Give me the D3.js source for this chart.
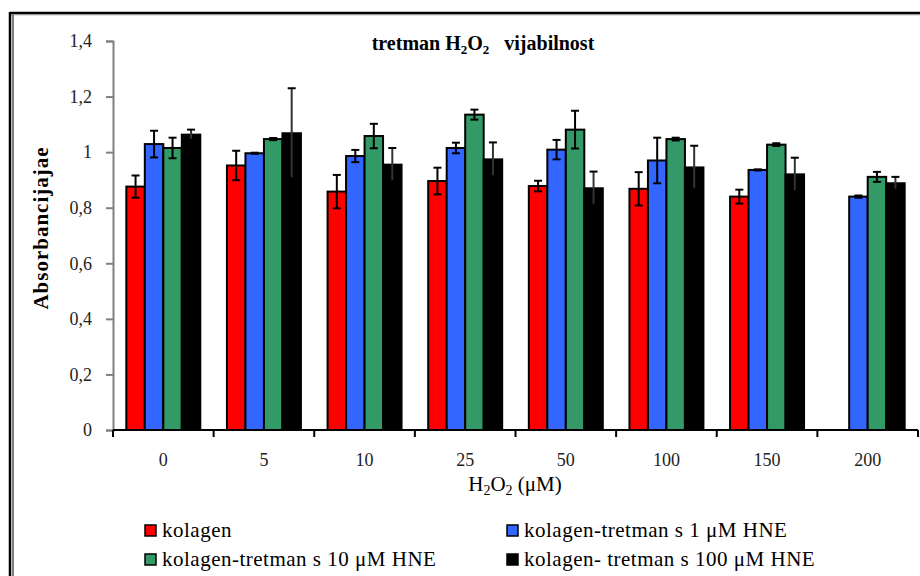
<!DOCTYPE html>
<html>
<head>
<meta charset="utf-8">
<script src="https://cdn.jsdelivr.net/npm/d3@7"></script>
<style>
  body { margin: 0; background: #fff; }
  svg text { font-family: "Liberation Serif", "Times New Roman", Times, "DejaVu Serif", serif !important; }
</style>
</head>
<body>
<div id="chart"></div>
<script>
(function () {

  var categories = ['0', '5', '10', '25', '50', '100', '150', '200']
  var seriesNames = [
    'kolagen',
    'kolagen-tretman s 1 μM HNE',
    'kolagen-tretman s 10 μM HNE',
    'kolagen- tretman s 100 μM HNE'
  ]
  var kolagen   = [0.876, 0.952, 0.858, 0.896, 0.878, 0.868, 0.840, null]
  var hne1      = [1.029, 0.996, 0.986, 1.015, 1.009, 0.970, 0.936, 0.840]
  var hne10     = [1.015, 1.047, 1.058, 1.135, 1.081, 1.047, 1.027, 0.911]
  var hne100    = [1.063, 1.068, 0.955, 0.974, 0.870, 0.945, 0.920, 0.888]
  var kolagenErr = [0.040, 0.053, 0.060, 0.048, 0.019, 0.060, 0.025, null]
  var hne1Err    = [0.048, 0.002, 0.022, 0.019, 0.035, 0.082, 0.002, 0.004]
  var hne10Err   = [0.037, 0.004, 0.044, 0.018, 0.068, 0.005, 0.005, 0.018]
  var hne100Err  = [0.018, 0.162, 0.060, 0.061, 0.060, 0.078, 0.060, 0.023]
  var yTicks = [0, 0.2, 0.4, 0.6, 0.8, 1, 1.2, 1.4]

  var colors = ['#ff0000', '#3366ff', '#339966', '#000000']
  var values = [kolagen, hne1, hne10, hne100]
  var errors = [kolagenErr, hne1Err, hne10Err, hne100Err]

  var width = 920, height = 576

  var svg = d3.select('#chart')
    .append('svg')
    .attr('width', width)
    .attr('height', height)

  // frame
  svg.append('line').attr('x1', 10).attr('x2', width).attr('y1', 13).attr('y2', 13)
    .attr('stroke', '#000').attr('stroke-width', 2.5)
  svg.append('line').attr('x1', 10).attr('x2', width).attr('y1', 14.8).attr('y2', 14.8)
    .attr('stroke', '#888').attr('stroke-width', 0.8)
  svg.append('line').attr('x1', 10).attr('x2', 10).attr('y1', 12).attr('y2', height)
    .attr('stroke', '#000').attr('stroke-width', 2.5)
  svg.append('line').attr('x1', 13).attr('x2', 13).attr('y1', 15).attr('y2', height)
    .attr('stroke', '#000').attr('stroke-width', 1)

  var x0 = d3.scaleBand()
    .domain(categories)
    .range([113, 918])
    .padding(0)

  var x1 = d3.scaleBand()
    .domain(d3.range(4))
    .range([0, x0.bandwidth()])
    .paddingOuter(0.72)
    .paddingInner(0)

  var y = d3.scaleLinear()
    .domain([0, 1.4])
    .range([430, 41])

  // y axis
  var yAxis = d3.axisLeft(y)
    .tickValues(yTicks)
    .tickSize(7)
    .tickPadding(14)
    .tickFormat(function (d) { return d3.format('.1f')(d).replace('.', ',').replace(',0', '') })
  var gy = svg.append('g')
    .attr('transform', 'translate(113,0)')
    .call(yAxis)
  gy.select('.domain').attr('stroke', '#808080').attr('stroke-width', 2)
  gy.selectAll('.tick line').attr('stroke', '#808080').attr('stroke-width', 2)
  gy.selectAll('.tick text')
    .attr('fill', '#222')
    .style('font-size', '18px')

  // bars
  categories.forEach(function (c, i) {
    values.forEach(function (s, k) {
      if (s[i] == null) return
      svg.append('rect')
        .attr('x', x0(c) + x1(k))
        .attr('y', y(s[i]))
        .attr('width', x1.bandwidth())
        .attr('height', y(0) - y(s[i]))
        .attr('fill', colors[k])
        .attr('stroke', '#000')
        .attr('stroke-width', 2)
    })
  })

  // error bars
  categories.forEach(function (c, i) {
    values.forEach(function (s, k) {
      if (s[i] == null) return
      var e = errors[k][i]
      var cx = x0(c) + x1(k) + x1.bandwidth() / 2
      var g = svg.append('g').attr('stroke', k === 3 ? '#333' : '#000').attr('stroke-width', 2)
      g.append('line').attr('x1', cx).attr('x2', cx).attr('y1', y(s[i] - e)).attr('y2', y(s[i] + e))
      g.append('line').attr('x1', cx - 4).attr('x2', cx + 4).attr('y1', y(s[i] + e)).attr('y2', y(s[i] + e))
        .attr('stroke', '#000')
      g.append('line').attr('x1', cx - 4).attr('x2', cx + 4).attr('y1', y(s[i] - e)).attr('y2', y(s[i] - e))
        .attr('stroke', '#000')
    })
  })

  // x axis
  svg.append('line')
    .attr('x1', 113).attr('x2', 918)
    .attr('y1', y(0)).attr('y2', y(0))
    .attr('stroke', '#000').attr('stroke-width', 2)
  var bounds = categories.map(function (c) { return x0(c) }).concat([x0.range()[1]])
  svg.selectAll('.xtick')
    .data(bounds)
    .enter().append('line')
    .attr('class', 'xtick')
    .attr('x1', function (d) { return d })
    .attr('x2', function (d) { return d })
    .attr('y1', y(0))
    .attr('y2', y(0) + 7)
    .attr('stroke', '#000')
    .attr('stroke-width', 2)
  svg.selectAll('.xlabel')
    .data(categories)
    .enter().append('text')
    .attr('class', 'xlabel')
    .attr('x', function (d) { return x0(d) + x0.bandwidth() / 2 })
    .attr('y', 466)
    .attr('text-anchor', 'middle')
    .attr('fill', '#222')
    .style('font-size', '18px')
    .text(function (d) { return d })

  // x axis title
  var xt = svg.append('text')
    .attr('x', 515)
    .attr('y', 491)
    .attr('text-anchor', 'middle')
    .style('font-size', '21px')
  xt.append('tspan').text('H')
  xt.append('tspan').attr('dy', 4).style('font-size', '14px').text('2')
  xt.append('tspan').attr('dy', -4).text('O')
  xt.append('tspan').attr('dy', 4).style('font-size', '14px').text('2')
  xt.append('tspan').attr('dy', -4).text(' (μM)')

  // title
  var tt = svg.append('text')
    .attr('x', 483)
    .attr('y', 50)
    .attr('text-anchor', 'middle')
    .style('font-size', '20px')
    .style('font-weight', 'bold')
  tt.append('tspan').text('tretman H')
  tt.append('tspan').attr('dy', 4).style('font-size', '13px').text('2')
  tt.append('tspan').attr('dy', -4).text('O')
  tt.append('tspan').attr('dy', 4).style('font-size', '13px').text('2')
  tt.append('tspan').attr('dy', -4).text('\u00a0\u00a0 vijabilnost')

  // y axis title
  svg.append('text')
    .attr('transform', 'translate(41,228) rotate(-90)')
    .attr('text-anchor', 'middle')
    .attr('dominant-baseline', 'central')
    .style('font-size', '21px')
    .style('font-weight', 'bold')
    .style('letter-spacing', '1px')
    .text('Absorbancijajae')

  // legend
  var legendPos = [[145, 537], [507, 537], [145, 566], [507, 566]]
  seriesNames.forEach(function (name, k) {
    var p = legendPos[k]
    svg.append('rect')
      .attr('x', p[0]).attr('y', p[1] - 12)
      .attr('width', 11).attr('height', 11)
      .attr('fill', colors[k])
      .attr('stroke', '#000')
      .attr('stroke-width', 1.5)
    svg.append('text')
      .attr('x', p[0] + 17)
      .attr('y', p[1])
      .style('font-size', '21px')
      .style('letter-spacing', '0.5px')
      .text(name)
  })

})()
</script>
</body>
</html>
